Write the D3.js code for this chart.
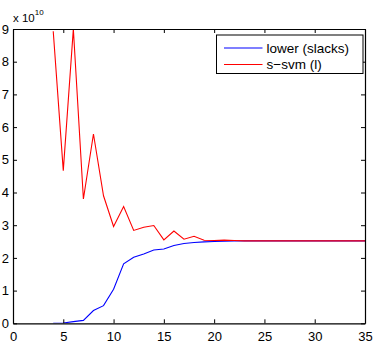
<!doctype html>
<html>
<head>
<meta charset="utf-8">
<script src="https://d3js.org/d3.v7.min.js"></script>
<style>
  body { margin: 0; background: #fff; }
  text { font-family: "Liberation Sans", Arial, sans-serif; fill: #000; }
</style>
</head>
<body>
<svg id="chart" width="375" height="343"></svg>
<script>
// data (values in units of 1e10)
const iterations = [4, 5, 6, 7, 8, 9, 10, 11, 12, 13, 14, 15, 16, 17, 18, 19, 20, 21, 22, 23, 24, 25, 26, 27, 28, 29, 30, 31, 32, 33, 34, 35];
const lowerSlacks = [0, 0.01, 0.05, 0.09, 0.39, 0.54, 1.04, 1.82, 2.02, 2.12, 2.24, 2.27, 2.38, 2.44, 2.47, 2.49, 2.50, 2.51, 2.515, 2.52, 2.52, 2.52, 2.52, 2.52, 2.52, 2.52, 2.52, 2.52, 2.52, 2.52, 2.52, 2.52];
const ssvm = [8.93, 4.67, 9.0, 3.80, 5.79, 3.90, 2.96, 3.57, 2.84, 2.94, 2.99, 2.55, 2.82, 2.57, 2.66, 2.54, 2.53, 2.545, 2.53, 2.52, 2.52, 2.52, 2.52, 2.52, 2.52, 2.52, 2.52, 2.52, 2.52, 2.52, 2.52, 2.52];
const xTicks = [0, 5, 10, 15, 20, 25, 30, 35];
const yTicks = [0, 1, 2, 3, 4, 5, 6, 7, 8, 9];
const seriesNames = ["lower (slacks)", "s\u2212svm (l)"];
const seriesColors = ["#0000ff", "#ff0000"];

const svg = d3.select("#chart");
const plotLeft = 13, plotRight = 365, plotTop = 29, plotBottom = 323.3;

const x = d3.scaleLinear().domain([0, 35]).range([plotLeft, plotRight]);
const y = d3.scaleLinear().domain([0, 9]).range([plotBottom, plotTop]);

// clip to plot area
svg.append("clipPath").attr("id", "clip")
  .append("rect").attr("x", plotLeft).attr("y", plotTop)
  .attr("width", plotRight - plotLeft).attr("height", plotBottom - plotTop);

// lines
const series = [lowerSlacks, ssvm];
const line = d3.line().x((d, i) => x(iterations[i])).y(d => y(d));
svg.append("g").attr("clip-path", "url(#clip)")
  .selectAll("path")
  .data(series)
  .join("path")
    .attr("d", d => line(d))
    .attr("fill", "none")
    .attr("stroke", (d, i) => seriesColors[i])
    .attr("stroke-width", 1.1);

// axes box with inward ticks on all sides
const tickLen = 4;
svg.append("g").attr("transform", `translate(0,${plotBottom})`)
  .call(d3.axisBottom(x).tickValues(xTicks).tickSizeInner(-tickLen).tickSizeOuter(0).tickPadding(8))
  .call(g => g.selectAll("text").attr("font-size", 13).attr("dy", "0.71em"));
svg.append("g").attr("transform", `translate(0,${plotTop})`)
  .call(d3.axisTop(x).tickValues(xTicks).tickSizeInner(-tickLen).tickSizeOuter(0).tickFormat(""));
svg.append("g").attr("transform", `translate(${plotLeft},0)`)
  .call(d3.axisLeft(y).tickValues(yTicks).tickSizeInner(-tickLen).tickSizeOuter(0).tickPadding(4))
  .call(g => g.selectAll("text").attr("font-size", 13));
svg.append("g").attr("transform", `translate(${plotRight},0)`)
  .call(d3.axisRight(y).tickValues(yTicks).tickSizeInner(-tickLen).tickSizeOuter(0).tickFormat(""));
svg.selectAll(".domain").attr("stroke", "#000").attr("stroke-width", 1.2);
svg.selectAll(".tick line").attr("stroke", "#000");

// exponent label
const expo = svg.append("text").attr("x", 13).attr("y", 21.5).attr("font-size", 11.5);
expo.append("tspan").text("x 10");
expo.append("tspan").attr("dy", -7).attr("font-size", 8).text("10");

// legend
const legend = svg.append("g");
legend.append("rect")
  .attr("x", 216.5).attr("y", 35).attr("width", 146.5).attr("height", 38.5)
  .attr("fill", "#fff").attr("stroke", "#000").attr("stroke-width", 1);
seriesNames.forEach((name, i) => {
  const cy = 48 + i * 16.5;
  legend.append("line")
    .attr("x1", 224).attr("x2", 262.5).attr("y1", cy).attr("y2", cy)
    .attr("stroke", seriesColors[i]).attr("stroke-width", 1.1);
  legend.append("text")
    .attr("x", 266.5).attr("y", cy).attr("dy", "0.35em")
    .attr("font-size", 13.5).text(name);
});
</script>
</body>
</html>
